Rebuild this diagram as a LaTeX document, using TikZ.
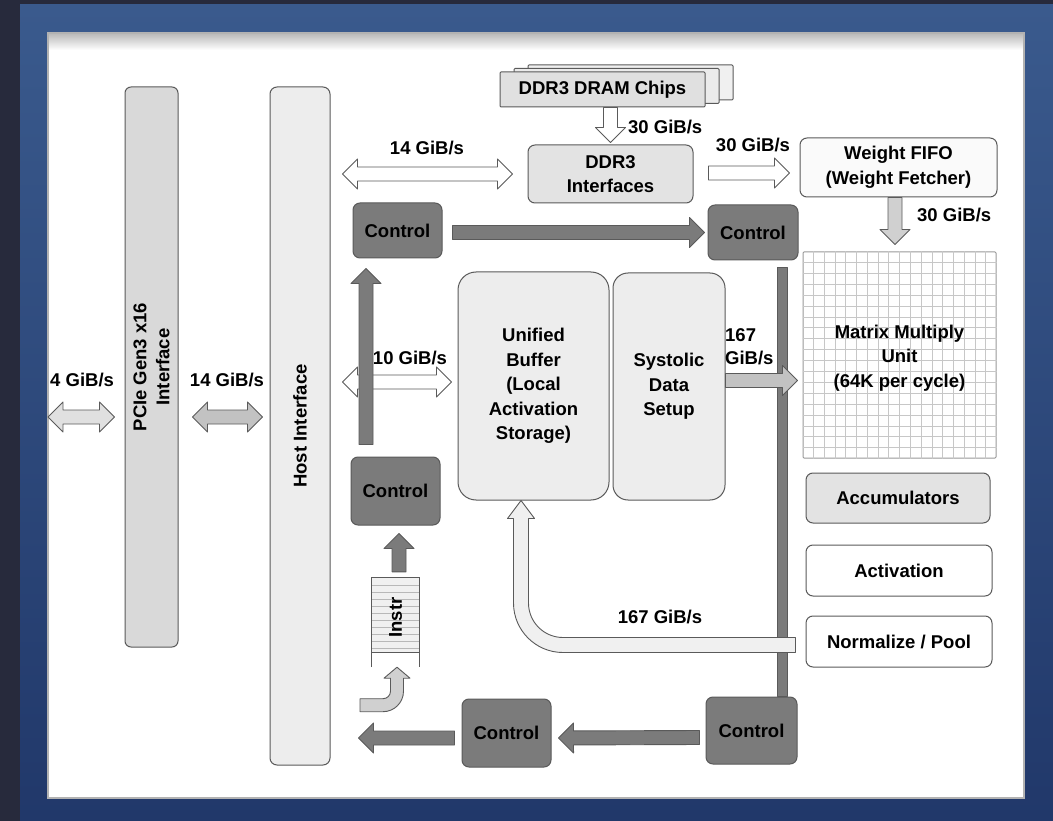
\documentclass[tikz,border=0pt]{standalone}
\usepackage{fontspec}
\setmainfont{Liberation Sans}
\usetikzlibrary{calc}

\definecolor{framedark}{HTML}{272A3C}
\definecolor{frametop}{HTML}{3A5A8D}
\definecolor{framebot}{HTML}{21386A}
\definecolor{ctlfill}{HTML}{7B7B7B}
\definecolor{boxfill}{HTML}{E3E3E3}
\definecolor{pale}{HTML}{EDEDED}
\definecolor{edge}{HTML}{5A5A5A}
\definecolor{arrlight}{HTML}{D0D0D0}
\definecolor{arrmid}{HTML}{C2C2C2}

\tikzset{
  box/.style={draw=edge,line width=1pt,rounded corners=7pt,align=center,inner sep=0pt,
    font=\fontsize{18.5}{24.5}\selectfont\bfseries},
  ctl/.style={box,fill=ctlfill,minimum width=89pt},
  sidebox/.style={box,minimum width=186pt,minimum height=51pt},
  lbl/.style={font=\fontsize{18.5}{23}\selectfont\bfseries,inner sep=0pt,align=left},
  blockarr/.style={draw=edge,line width=0.9pt,line join=round}
}

% block arrow sizes (half shaft, half head, head length)
\def\arsw{7pt}
\def\arhw{15pt}
\def\arhl{15pt}

% single block arrow: [style]{from}{to}
\newcommand{\fatarrow}[3][]{%
  \coordinate (fa-s) at #2;
  \coordinate (fa-e) at #3;
  \coordinate (fa-b) at ($(fa-e)!\arhl!(fa-s)$);
  \draw[blockarr,#1] ($(fa-s)!\arsw!90:(fa-e)$) -- ($(fa-b)!\arsw!-90:(fa-s)$)
    -- ($(fa-b)!\arhw!-90:(fa-s)$) -- (fa-e) -- ($(fa-b)!\arhw!90:(fa-s)$)
    -- ($(fa-b)!\arsw!90:(fa-s)$) -- ($(fa-s)!\arsw!-90:(fa-e)$) -- cycle;}

% double block arrow: [style]{from}{to}
\newcommand{\dblarrow}[3][]{%
  \coordinate (fa-s) at #2;
  \coordinate (fa-e) at #3;
  \coordinate (fa-a) at ($(fa-s)!\arhl!(fa-e)$);
  \coordinate (fa-b) at ($(fa-e)!\arhl!(fa-s)$);
  \draw[blockarr,#1] (fa-s) -- ($(fa-a)!\arhw!90:(fa-e)$) -- ($(fa-a)!\arsw!90:(fa-e)$)
    -- ($(fa-b)!\arsw!-90:(fa-s)$) -- ($(fa-b)!\arhw!-90:(fa-s)$) -- (fa-e)
    -- ($(fa-b)!\arhw!90:(fa-s)$) -- ($(fa-b)!\arsw!90:(fa-s)$)
    -- ($(fa-a)!\arsw!-90:(fa-e)$) -- ($(fa-a)!\arhw!-90:(fa-e)$) -- cycle;}

% bent block arrow, sideways then up: [style]{from}{to}{radius}{half shaft}{half head}{head length}
\newcommand{\bentarrow}[7][]{%
  \draw[blockarr,#1] let \p1=#2, \p2=#3, \n1={sign(\x2-\x1)},
      \n2={0.5523*(#4+#5)}, \n3={0.5523*(#4-#5)} in
    (\x1,{\y1-#5}) -- ({\x2-(\n1)*#4},{\y1-#5})
    .. controls ({\x2-(\n1)*#4+(\n1)*\n2},{\y1-#5}) and ({\x2+(\n1)*#5},{\y1+#4-\n2}) ..
    ({\x2+(\n1)*#5},{\y1+#4}) -- ({\x2+(\n1)*#5},{\y2-#7}) -- ({\x2+(\n1)*#6},{\y2-#7}) -- (\x2,\y2)
    -- ({\x2-(\n1)*#6},{\y2-#7}) -- ({\x2-(\n1)*#5},{\y2-#7}) -- ({\x2-(\n1)*#5},{\y1+#4})
    .. controls ({\x2-(\n1)*#5},{\y1+#4-\n3}) and ({\x2-(\n1)*#4+(\n1)*\n3},{\y1+#5}) ..
    ({\x2-(\n1)*#4},{\y1+#5}) -- (\x1,{\y1+#5}) -- cycle;}

\begin{document}
\begin{tikzpicture}[x=1pt,y=-1pt]
  \useasboundingbox (0,0) rectangle (1053,821);

  % ================= frame and panel =================
  \fill[framedark] (0,0) rectangle (1053,821);
  \shade[top color=frametop,bottom color=framebot] (20,5) rectangle (1053,821);
  \fill[white] (48,33) rectangle (1024,798);
  \shade[top color=black!28,bottom color=white] (48,33) rectangle (1024,50);
  \draw[black!30,line width=1.2pt] (48,33) rectangle (1024,798);

  % ================= host side =================
  \node[box,fill=black!15,rounded corners=6pt,minimum width=53pt,minimum height=560pt] (pcie) at (151.5,367) {};
  \node[lbl,rotate=90,align=center] (pcie-t) at (pcie.center) {PCIe Gen3 x16\\Interface};
  \node[box,fill=black!7,minimum width=60pt,minimum height=678pt] (host) at (300,426) {};
  \node[lbl,rotate=90] (host-t) at (host.center) {Host Interface};

  % ================= memory path =================
  \node[box,fill=black!6,rounded corners=1pt,minimum width=205pt,minimum height=35pt] (dram3) at (630.5,82.5) {};
  \node[box,fill=black!8,rounded corners=1pt,minimum width=205pt,minimum height=35pt] (dram2) at (616.5,86) {};
  \node[box,fill=black!12,rounded corners=1pt,minimum width=205pt,minimum height=35pt] (dram) at (602.5,89.5) {DDR3 DRAM Chips};
  \node[box,fill=boxfill,minimum width=165pt,minimum height=58pt] (ddrif) at (610.5,174) {DDR3\\Interfaces};
  \node[box,fill=black!2,minimum width=197pt,minimum height=59pt] (fifo) at (898.5,167.5) {Weight FIFO\\(Weight Fetcher)};

  % ================= control units =================
  \node[ctl,minimum height=55pt] (ctlA) at (397.5,230.5) {Control};
  \node[ctl,minimum width=90pt,minimum height=55pt] (ctlB) at (753,232.5) {Control};
  \node[ctl,minimum height=68pt] (ctlC) at (395.5,491) {Control};
  \node[ctl,minimum height=68pt] (ctlD) at (506.5,733) {Control};
  \node[ctl,minimum width=91pt,minimum height=67pt] (ctlE) at (751.5,730.5) {Control};

  % ================= matrix unit =================
  \node[box,draw=black!40,rounded corners=1pt,minimum width=193pt,minimum height=206pt] (mmu) at (899.5,355) {};
  \foreach \k in {1,...,17}
    \draw[black!22,line width=0.6pt] ($(mmu.north west)!\k/18!(mmu.north east)$) -- ($(mmu.south west)!\k/18!(mmu.south east)$);
  \foreach \k in {1,...,18}
    \draw[black!22,line width=0.6pt] ($(mmu.north west)!\k/19!(mmu.south west)$) -- ($(mmu.north east)!\k/19!(mmu.south east)$);
  \node[box,draw=none] (mmu-t) at ($(mmu.center)+(0,3)$) {Matrix Multiply\\Unit\\(64K per cycle)};

  % ================= buffers =================
  \node[box,fill=pale,rounded corners=18pt,minimum width=151pt,minimum height=228pt] (ub) at (533.5,386) {Unified\\Buffer\\(Local\\Activation\\Storage)};
  \node[box,fill=pale,rounded corners=15pt,minimum width=112pt,minimum height=227pt] (sds) at (669,386.5) {Systolic\\Data\\Setup};

  \node[sidebox,fill=boxfill,minimum width=184pt,minimum height=50pt] (acc) at (898,498) {Accumulators};
  \node[sidebox,fill=white] (act) at (899,570.5) {Activation};
  \node[sidebox,fill=white] (norm) at (899,641.5) {Normalize / Pool};

  % instruction FIFO
  \node[minimum width=47pt,minimum height=89pt,inner sep=0pt] (instr) at (395.5,622.5) {};
  \fill[black!6] (instr.north west) rectangle ($(instr.north east)+(0,75)$);
  \foreach \k in {1,...,10}
    \draw[black!28,line width=0.6pt] ($(instr.north west)+(0,7*\k)$) -- ($(instr.north east)+(0,7*\k)$);
  \draw[edge,line width=1pt] ($(instr.north west)+(0,75)$) -- ($(instr.north east)+(0,75)$);
  \draw[edge,line width=1pt] (instr.south west) -- (instr.north west) -- (instr.north east) -- (instr.south east);
  \node[lbl,rotate=90] (instr-t) at ($(instr.center)+(0,-5)$) {Instr};

  % control bus
  \draw[blockarr,fill=ctlfill] ($(ctlB.south)+(24,7)$) rectangle ($(ctlE.north)+(35.5,0)$);

  % ================= data arrows =================
  \coordinate (pcie-ext) at (48,417);
  \dblarrow[fill=black!12]{(pcie-ext)}{($(pcie.west |- pcie-ext)+(-10,0)$)}
  \dblarrow[fill=arrmid]{($(pcie.east |- pcie-ext)+(14,0)$)}{($(host.west |- pcie-ext)+(-7,0)$)}
  \fatarrow[fill=white]{(dram.south -| ddrif.north)}{($(ddrif.north)+(0,-2)$)}
  \dblarrow[fill=white]{($(host.east |- ddrif.west)+(12,0)$)}{($(ddrif.west)+(-15,0)$)}
  \fatarrow[fill=white]{($(ddrif.east)+(15,-1)$)}{($(fifo.west |- ddrif.east)+(-10,-1)$)}
  \fatarrow[fill=arrlight]{($(fifo.south)+(-3.5,0)$)}{($(mmu.north)+(-4.5,-7)$)}
  \dblarrow[fill=white]{($(host.east |- ub.west)+(12,-4)$)}{($(ub.west)+(-6,-4)$)}
  \fatarrow[fill=arrmid]{($(sds.east)+(0,-6)$)}{($(sds.east -| mmu.west)+(-5,-6)$)}
  \bentarrow[fill=black!6]{($(norm.west)+(-10,3.5)$)}{($(ub.south)+(-12.5,0)$)}{42pt}{7.5pt}{13.5pt}{18pt}
  \bentarrow[fill=arrlight]{($(instr.south)+(-35.5,38)$)}{($(instr.south)+(1.5,0)$)}{14pt}{6.5pt}{13pt}{11pt}

  % ================= control arrows =================
  \fatarrow[fill=ctlfill]{($(ctlA.east |- ctlB.west)+(10,0)$)}{($(ctlB.west)+(-3,0)$)}
  \fatarrow[fill=ctlfill]{($(ctlC.north)+(-29.5,-12)$)}{($(ctlA.south)+(-31.5,10)$)}
  \fatarrow[fill=ctlfill]{($(instr.north)+(3.5,-6)$)}{($(ctlC.south)+(3.5,8)$)}
  \fatarrow[fill=ctlfill]{($(ctlE.west)+(-6,7)$)}{($(ctlD.east)+(7,5)$)}
  \fatarrow[fill=ctlfill]{($(ctlD.west)+(-7,5)$)}{($(host.east |- ctlD.west)+(28,5)$)}

  % ================= bandwidth labels =================
  \node[lbl,anchor=west] (bw-pcie) at (50,380) {4 GiB/s};
  \node[lbl] (bw-host) at (227,380) {14 GiB/s};
  \node[lbl,anchor=west] (bw-dram) at (628,127) {30 GiB/s};
  \node[lbl] (bw-ddr) at (427,148) {14 GiB/s};
  \node[lbl] (bw-fifo) at (753,145) {30 GiB/s};
  \node[lbl,anchor=west] (bw-wt) at (917,215) {30 GiB/s};
  \node[lbl] (bw-ub) at (410,358) {10 GiB/s};
  \node[lbl,anchor=west] (bw-mmu) at (725,347) {167\\GiB/s};
  \node[lbl] (bw-back) at (660,617) {167 GiB/s};
\end{tikzpicture}
\end{document}
